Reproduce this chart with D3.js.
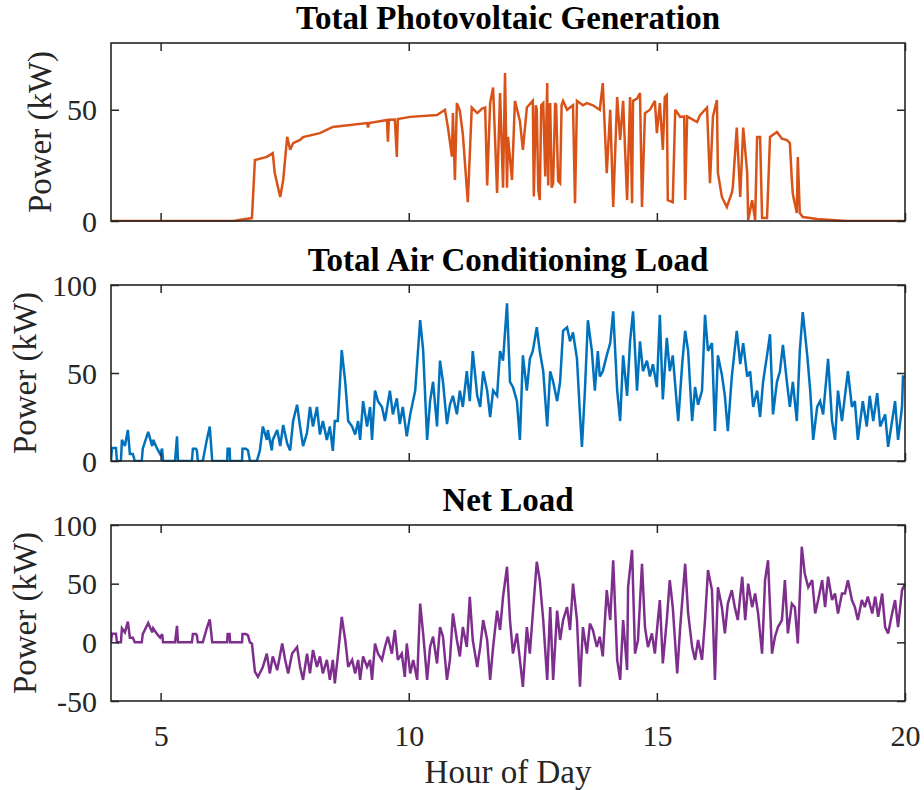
<!DOCTYPE html>
<html>
<head>
<meta charset="utf-8">
<script src="https://cdn.jsdelivr.net/npm/d3@7"></script>
<style>
  html, body { margin: 0; padding: 0; background: #fff; }
  svg { display: block; }
  text { font-family: "Liberation Serif", "Times New Roman", Times, serif; }
</style>
</head>
<body>
<svg id="chart" width="924" height="790"></svg>
<script>
// Hour axis
const hourTicks = [5, 10, 15, 20];

// Total photovoltaic generation (kW)
const pvHours = [4.00, 6.46, 6.84, 6.90, 7.14, 7.26, 7.30, 7.41, 7.47, 7.55, 7.61, 7.67, 7.81, 7.87, 8.21, 8.47,
  9.16, 9.18, 9.20, 9.56, 9.58, 9.60, 9.72, 9.76, 9.78, 10.03, 10.57, 10.73, 10.79, 10.87, 10.89, 10.93, 10.97,
  11.03, 11.09, 11.19, 11.27, 11.38, 11.48, 11.54, 11.58, 11.64, 11.70, 11.78, 11.84, 11.90, 11.94, 11.98, 12.00,
  12.08, 12.14, 12.24, 12.30, 12.38, 12.50, 12.52, 12.56, 12.58, 12.61, 12.64, 12.67, 12.71, 12.75, 12.79, 12.81,
  12.83, 12.85, 12.88, 12.91, 12.95, 12.97, 13.01, 13.05, 13.08, 13.11, 13.19, 13.31, 13.35, 13.39, 13.51, 13.59,
  13.71, 13.85, 13.91, 13.99, 14.06, 14.12, 14.20, 14.26, 14.32,
  14.40, 14.46, 14.50, 14.52, 14.60, 14.66, 14.70, 14.76, 14.86, 14.96, 15.00, 15.06, 15.12, 15.16, 15.20, 15.22,
  15.32, 15.37, 15.47, 15.55, 15.57, 15.61, 15.81, 15.87, 16.01, 16.07, 16.13, 16.21, 16.23, 16.31, 16.41, 16.51,
  16.53, 16.61, 16.68, 16.74, 16.82, 16.84, 16.92, 16.98, 17.02, 17.08, 17.12, 17.22, 17.28, 17.42, 17.52, 17.62,
  17.68, 17.72, 17.74, 17.82, 17.84, 17.88, 17.94, 18.23, 18.83, 20.00];
const pvKW = [0, 0, 1.3, 27.4, 28.8, 30.5, 21.6, 10.8, 18.4, 37.8, 32, 35, 36.4, 37.7, 39.5, 42.3,
  44, 42, 44, 45.4, 35.6, 45.5, 45.6, 28.8, 45.8, 46.8, 47.6, 50, 42, 29, 48.5, 18.4, 53,
  49.5, 39, 8.5, 51, 48.5, 50.5, 51, 16, 53, 60, 12.6, 57.5, 15, 66.5, 15, 37.8,
  18.4, 54, 45, 32, 51, 54, 11, 52, 50, 14, 9.4, 52, 53, 20, 62, 16,
  50, 53, 15, 17, 53, 52, 18, 17, 52, 54, 50, 52, 8, 54, 52, 53,
  52, 50, 62, 21.5, 50, 6.3, 55.7, 36.4, 54,
  9.4, 55.7, 8, 54, 55, 57.5, 6.3, 48.5, 50, 54, 39.5, 53, 32, 55.7, 56.6, 9.4,
  8.5, 50, 46.8, 47, 9.4, 47, 44.5, 47.6, 51, 17, 47, 54.4, 21.6, 10.8, 6.3, 12.6,
  15, 42, 10.8, 42, 21.6, 0.4, 9.4, 0.4, 37.8, 37.8, 1.3, 1.3, 37.8, 40, 37, 36.4,
  35, 18.4, 12, 3.6, 28.8, 3.6, 1.8, 0.9, 0, 0];

// Total air conditioning load (kW)
const acHours = [4.00, 4.02, 4.10, 4.12, 4.20, 4.22, 4.28, 4.34, 4.38, 4.44, 4.48, 4.62, 4.64, 4.75, 4.83, 4.85, 4.93,
  4.99, 5.03, 5.05, 5.29, 5.33, 5.35, 5.63, 5.65, 5.71, 5.73, 5.75, 5.85, 5.93, 5.99, 6.04, 6.34, 6.35, 6.39, 6.40, 6.64,
  6.65, 6.72, 6.76, 6.80, 6.94, 7.00, 7.06, 7.14, 7.16, 7.24, 7.26, 7.35, 7.41, 7.47, 7.55, 7.61, 7.67, 7.75, 7.81,
  7.87, 7.95, 8.01, 8.07, 8.15, 8.21, 8.27, 8.35, 8.41, 8.47, 8.51, 8.57, 8.65, 8.72, 8.78, 8.86, 8.92, 8.98,
  9.02, 9.08, 9.16, 9.22, 9.26, 9.32, 9.38, 9.46, 9.52, 9.62, 9.68, 9.76, 9.82, 9.88, 9.96, 10.03, 10.13, 10.23,
  10.29, 10.37, 10.43, 10.49, 10.57, 10.63, 10.69, 10.77, 10.83, 10.89, 10.97, 11.03, 11.09, 11.17, 11.23, 11.29,
  11.38, 11.44, 11.50, 11.58, 11.64, 11.70, 11.78, 11.84, 11.90, 11.98, 12.04, 12.10, 12.18, 12.24, 12.30, 12.38,
  12.44, 12.50, 12.58, 12.64, 12.71, 12.79, 12.85, 12.91, 12.99, 13.05, 13.11, 13.19, 13.25, 13.31, 13.39, 13.45,
  13.49, 13.55, 13.61, 13.69, 13.75, 13.81, 13.85, 13.91, 13.99, 14.06, 14.12, 14.20, 14.26, 14.32, 14.40, 14.46,
  14.52, 14.60, 14.66, 14.72, 14.80, 14.86, 14.92, 15.00, 15.06, 15.12, 15.20, 15.26, 15.32, 15.43, 15.51, 15.57,
  15.63, 15.71, 15.77, 15.83, 15.91, 15.97, 16.03, 16.11, 16.17, 16.23, 16.31, 16.37, 16.43, 16.51, 16.61, 16.68,
  16.74, 16.82, 16.88, 16.94, 17.02, 17.08, 17.14, 17.22, 17.28, 17.34, 17.42, 17.48, 17.54, 17.62, 17.68, 17.74,
  17.82, 17.88, 17.94, 18.03, 18.09, 18.15, 18.23, 18.29, 18.35, 18.45, 18.53, 18.59, 18.65, 18.73, 18.79, 18.85,
  18.93, 18.99, 19.05, 19.15, 19.23, 19.29, 19.36, 19.44, 19.50, 19.60, 19.66, 19.74, 19.80, 19.86, 19.94, 19.96,
  20.00];
const acKW = [0, 7.4, 7.4, 0, 0, 12, 8.5, 17.6, 4, 4, 0, 0, 7, 16.5, 8.5, 12, 7,
  4, 7, 0, 0, 14, 0, 0, 7, 7, 6, 0, 0, 12, 19.6, 0, 0, 7, 7, 0, 0,
  7, 7, 6, 0, 0, 6, 19.6, 12, 17.6, 6, 12, 17.6, 8.5, 20.5, 10, 6, 22.7, 32, 19.6,
  8.5, 16, 30.7, 19.6, 30.7, 15, 22.7, 12, 19.6, 5.7, 22.7, 22.7, 63, 45, 22.7, 19.6, 15, 22.7,
  12, 34, 19.6, 30.7, 12, 40, 34, 30.7, 22.7, 40, 26.5, 35.6, 21, 30.7, 14, 26.5, 40, 80,
  63, 12, 34, 45, 19.6, 57, 45, 21, 32, 37, 26.5, 40, 30.7, 51, 34, 62.5,
  37, 30.7, 51, 40, 25, 40, 37, 62.5, 57, 89.6, 45, 42, 34, 12, 60, 40,
  58, 62.5, 76, 62.5, 51, 19.6, 51, 45, 34, 45, 74, 76, 68, 73, 58, 26.5,
  8, 40, 80, 62.5, 40, 62.5, 48, 51, 60, 67, 85, 40, 22.7, 60, 37, 68,
  85, 40, 68, 51, 57, 48, 55, 42, 83, 35, 70, 51, 60, 22.7, 55, 74,
  62.5, 22.7, 42, 32, 40, 83, 62.5, 67, 17, 60, 49, 37, 17, 48, 74, 55,
  67, 48, 51, 30.7, 40, 25, 45, 60, 72, 26.5, 45, 51, 66, 45, 30.7, 45,
  22.7, 62.5, 84.6, 60, 40, 12, 30.7, 34, 26.5, 58, 22.7, 12, 40, 22.7, 37, 51,
  30.7, 34, 12, 34, 19.6, 37, 22.7, 38.6, 19.6, 26.5, 8, 22.7, 34, 12, 30.7, 48,
  48];

// Net load (kW)
const netHours = [4.00, 4.02, 4.10, 4.12, 4.20, 4.22, 4.28, 4.34, 4.38, 4.44, 4.48, 4.62, 4.64, 4.75, 4.83, 4.85, 4.93,
  4.99, 5.03, 5.05, 5.29, 5.33, 5.35, 5.63, 5.65, 5.71, 5.73, 5.75, 5.85, 5.93, 5.99, 6.04, 6.34, 6.35, 6.39, 6.40, 6.64,
  6.65, 6.72, 6.76, 6.80, 6.84, 6.90, 6.96, 7.06, 7.14, 7.20, 7.26, 7.35, 7.45, 7.51, 7.57, 7.65, 7.75, 7.81, 7.87,
  7.95, 8.01, 8.07, 8.15, 8.21, 8.27, 8.35, 8.41, 8.47, 8.51, 8.57, 8.65, 8.72, 8.78, 8.86, 8.92, 8.98, 9.02,
  9.08, 9.16, 9.22, 9.26, 9.32, 9.38, 9.46, 9.52, 9.58, 9.66, 9.72, 9.78, 9.86, 9.92, 9.96, 10.03, 10.09, 10.17,
  10.23, 10.29, 10.37, 10.43, 10.49, 10.57, 10.63, 10.69, 10.77, 10.83, 10.89, 10.97, 11.03, 11.09, 11.17, 11.23,
  11.29, 11.38, 11.44, 11.50, 11.58, 11.64, 11.70, 11.78, 11.84, 11.90, 11.98, 12.04, 12.10, 12.18, 12.24, 12.30,
  12.38, 12.44, 12.50, 12.58, 12.64, 12.71, 12.79, 12.85, 12.91, 12.99, 13.05, 13.11, 13.19, 13.25, 13.31, 13.39,
  13.45, 13.51, 13.59, 13.65, 13.71, 13.79, 13.85, 13.91, 13.99, 14.06, 14.12, 14.20, 14.26, 14.32, 14.40, 14.42,
  14.50, 14.56, 14.62, 14.70, 14.76, 14.82, 14.90, 14.96, 15.02, 15.06, 15.12, 15.20, 15.26, 15.32, 15.41, 15.47,
  15.57, 15.63, 15.71, 15.77, 15.83, 15.91, 15.97, 16.03, 16.11, 16.17, 16.23, 16.31, 16.37, 16.43, 16.51, 16.57,
  16.63, 16.72, 16.78, 16.84, 16.92, 16.98, 17.04, 17.12, 17.18, 17.24, 17.32, 17.38, 17.44, 17.52, 17.58, 17.64,
  17.72, 17.78, 17.84, 17.92, 17.98, 18.05, 18.13, 18.19, 18.25, 18.33, 18.39, 18.45, 18.53, 18.59, 18.65, 18.73,
  18.79, 18.85, 18.93, 18.99, 19.05, 19.13, 19.19, 19.25, 19.34, 19.40, 19.46, 19.54, 19.60, 19.66, 19.74, 19.80,
  19.86, 19.94, 20.00];
const netKW = [0, 7.4, 7.4, 0, 0, 12, 8.5, 17.6, 4, 4, 0, 0, 7, 16.5, 8.5, 12, 7,
  4, 7, 0, 0, 14, 0, 0, 7, 7, 6, 0, 0, 12, 19.6, 0, 0, 7, 7, 0, 0,
  7, 7, 6, 0, -1, -25, -29.5, -21, -9.6, -26.5, -12, -23.6, -1, -15, -26.5, -9.6, -4, -21, -32,
  -9.6, -26.5, -6.5, -21, -12, -26.5, -15, -32, -15, -35, -12, 21.7, 2, -21, -15, -26.5, -15, -32,
  -12, -21, -15, -32, -1, -9.6, -15, -4, 4.8, -9.6, 10.5, -15, -9.6, -29.5, -1, -26.5, -15, -32,
  33, 7.6, -32, -4, 4.8, -18, 13, 4.8, -32, -15, 24.6, 2, -12, 13, -4, 38.8,
  2, -21, -4, 19, 2, -32, -4, 27, 10.5, 38.8, 64.4, 19, -9.6, 7.6, -15, -38,
  13, -9.6, 24.6, 68.7, 53, 19, -32, 30, -32, 27, 2, 19, 30, 10.5, 50, 19,
  -37.8, 13, -9.6, 16, 10.5, -4, 4.8, -12, 44.5, 19, 70, -15, -32, 19, -23.6, 47,
  78.7, -9.6, 2, 67, 13, -4, 7.6, -9.6, 19, 36, -18, 19, 53, 30, -26.5, 13,
  67, 24.6, -4, -15, 2, -15, 19, 61.6, 44.5, -32, 47, 30, 7.6, 33, 44.5, 30,
  19, 55.9, 19, 50, 30, 41.6, 24.6, -9.6, 53, 70, -9.6, 4.8, 13, 19, 53, 7.6,
  33, 30, -1, 81.5, 58.7, 47, 53, 24.6, 36, 53, 30, 56, 36, 41.6, 24.6, 41.6,
  41.6, 53, 36, 30, 19, 36, 30, 39, 24.6, 39, 21.7, 41.6, 13, 7.6, 24.6, 36,
  13, 44.5, 50];

const panelTitles = ["Total Photovoltaic Generation", "Total Air Conditioning Load", "Net Load"];
const yDomains = [[0, 80], [0, 100], [-50, 100]];
const yTickValues = [[0, 50], [0, 50, 100], [-50, 0, 50, 100]];
const yAxisLabel = "Power (kW)";
const xAxisLabel = "Hour of Day";

// Figure layout
const W = 924, H = 790;
const left = 111, right = 905;
const panelBoxes = [
  { top: 43, bottom: 221 },
  { top: 285, bottom: 461 },
  { top: 525, bottom: 701 }
];
const lineColors = ["#D95319", "#0072BD", "#7E2F8E"];
const axisColor = "#262626";
const tickLen = 8;

const series = [
  pvHours.map((h, i) => [h, pvKW[i]]),
  acHours.map((h, i) => [h, acKW[i]]),
  netHours.map((h, i) => [h, netKW[i]])
];

const svg = d3.select("#chart");
svg.append("rect").attr("width", W).attr("height", H).attr("fill", "#fff");

const x = d3.scaleLinear().domain([4, 20]).range([left, right]);
const fmt = d => String(d); // plain hyphen-minus for negatives

panelBoxes.forEach((box, p) => {
  const y = d3.scaleLinear().domain(yDomains[p]).range([box.bottom, box.top]);
  const g = svg.append("g");

  // clipped data line
  const clipId = "clip" + p;
  svg.append("defs").append("clipPath").attr("id", clipId)
    .append("rect").attr("x", left).attr("y", box.top - 1)
    .attr("width", right - left + 2).attr("height", box.bottom - box.top + 2);

  const line = d3.line().x(d => x(d[0])).y(d => y(d[1]));
  g.append("path")
    .datum(series[p])
    .attr("clip-path", `url(#${clipId})`)
    .attr("fill", "none")
    .attr("stroke", lineColors[p])
    .attr("stroke-width", 2.5)
    .attr("stroke-linejoin", "miter")
    .attr("stroke-miterlimit", 3)
    .attr("d", line);

  // bottom axis (labels only on last panel)
  const showX = p === panelBoxes.length - 1;
  const xb = g.append("g").attr("transform", `translate(0,${box.bottom})`)
    .call(d3.axisBottom(x).tickValues(hourTicks).tickSizeInner(-tickLen).tickSizeOuter(0)
      .tickPadding(showX ? 24 : 0).tickFormat(showX ? fmt : () => ""));
  const xt = g.append("g").attr("transform", `translate(0,${box.top})`)
    .call(d3.axisTop(x).tickValues(hourTicks).tickSizeInner(-tickLen).tickSizeOuter(0).tickFormat(() => ""));
  const yl = g.append("g").attr("transform", `translate(${left},0)`)
    .call(d3.axisLeft(y).tickValues(yTickValues[p]).tickSizeInner(-tickLen).tickSizeOuter(0)
      .tickPadding(14).tickFormat(fmt));
  const yr = g.append("g").attr("transform", `translate(${right},0)`)
    .call(d3.axisRight(y).tickValues(yTickValues[p]).tickSizeInner(-tickLen).tickSizeOuter(0).tickFormat(() => ""));

  [xb, xt, yl, yr].forEach(a => {
    a.select(".domain").remove();
    a.selectAll(".tick line").attr("stroke", axisColor).attr("stroke-width", 1.5);
    a.selectAll(".tick text")
      .attr("fill", axisColor)
      .style("font-family", '"Liberation Serif", "Times New Roman", serif')
      .style("font-size", "30px");
  });
  yl.selectAll(".tick text").attr("dy", "0.34em");
  xb.selectAll(".tick text").attr("dy", "0.71em");

  // box
  g.append("rect")
    .attr("x", left).attr("y", box.top)
    .attr("width", right - left).attr("height", box.bottom - box.top)
    .attr("fill", "none").attr("stroke", axisColor).attr("stroke-width", 1.6);

  // title
  g.append("text")
    .attr("x", (left + right) / 2)
    .attr("y", box.top - 14)
    .attr("text-anchor", "middle")
    .attr("fill", "#000")
    .style("font-size", "33px")
    .style("font-weight", "bold")
    .text(panelTitles[p]);

  // y label placed just left of the widest tick label
  let minX = Infinity;
  yl.selectAll(".tick text").each(function () {
    const b = this.getBBox();
    minX = Math.min(minX, left + b.x);
  });
  g.append("text")
    .attr("transform", `translate(${minX - 16},${(box.top + box.bottom) / 2}) rotate(-90)`)
    .attr("text-anchor", "middle")
    .attr("fill", axisColor)
    .style("font-size", "33px")
    .text(yAxisLabel);
});

// x label
svg.append("text")
  .attr("x", (left + right) / 2)
  .attr("y", 783)
  .attr("text-anchor", "middle")
  .attr("fill", axisColor)
  .style("font-size", "33px")
  .text(xAxisLabel);
</script>
</body>
</html>
